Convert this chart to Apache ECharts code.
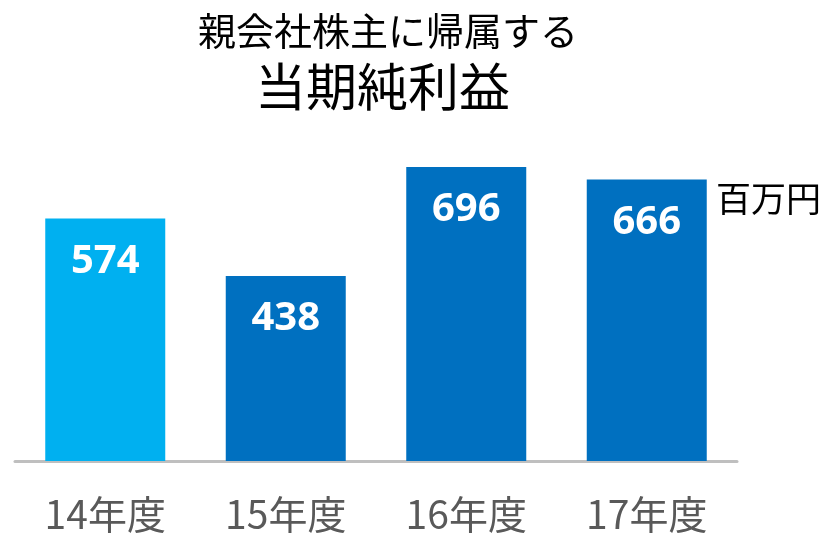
<!DOCTYPE html>
<html>
<head>
<meta charset="utf-8">
<script src="https://cdn.jsdelivr.net/npm/echarts@6/dist/echarts.min.js"></script>
<style>html,body{margin:0;padding:0;background:#fff}#c{width:825px;height:534px}</style>
</head>
<body>
<div id="c"></div>
<script>
const categories = ['14年度', '15年度', '16年度', '17年度'];
const profit = [574, 438, 696, 666];
const barColors = ['#00B0F0', '#0070C0', '#0070C0', '#0070C0'];
const titleLine1 = '親会社株主に帰属する';
const titleLine2 = '当期純利益';
const unitLabel = '百万円';

const chart = echarts.init(document.getElementById('c'));
chart.setOption({
  animation: false,
  backgroundColor: '#ffffff',
  grid: { left: 15, right: 88, top: 123, bottom: 73 },
  xAxis: {
    type: 'category',
    data: categories,
    axisLine: { show: true, lineStyle: { color: '#BFBFBF', width: 3 } },
    axisTick: { show: false },
    axisLabel: {
      color: '#595959', fontSize: 39, margin: 34,
      fontFamily: 'Noto Sans CJK JP'
    }
  },
  yAxis: {
    type: 'value', min: 0, max: 800, show: false,
    splitLine: { show: false }
  },
  series: [{
    type: 'bar',
    barWidth: 120,
    data: profit.map((v, i) => ({ value: v, itemStyle: { color: barColors[i] } })),
    label: {
      show: true, position: 'insideTop', distance: 23,
      color: '#ffffff', fontSize: 40, fontWeight: 'bold',
      fontFamily: 'Open Sans'
    }
  }],
  graphic: [
    { type: 'text', left: 198, top: 12, style: { text: titleLine1, font: '38px "Noto Sans CJK JP"', fill: '#000' } },
    { type: 'text', left: 255, top: 61, style: { text: titleLine2, font: '51px "Noto Sans CJK JP"', fill: '#000' } },
    { type: 'text', left: 716, top: 181, style: { text: unitLabel, font: '35px "Noto Sans CJK JP"', fill: '#000' } }
  ]
});
</script>
</body>
</html>
